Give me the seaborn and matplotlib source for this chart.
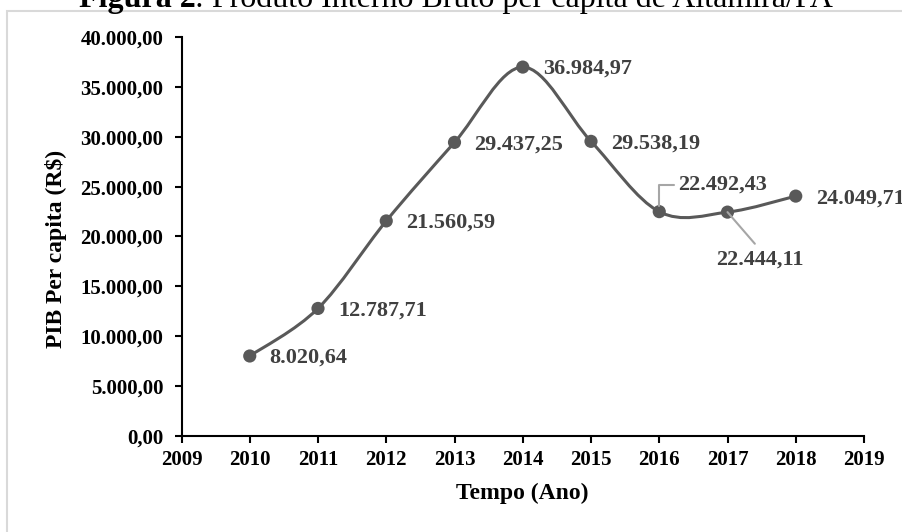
import numpy as np
import pandas as pd
import matplotlib
matplotlib.use("Agg")
import matplotlib.pyplot as plt
from matplotlib.path import Path
from matplotlib.patches import PathPatch, Rectangle
from matplotlib.ticker import FuncFormatter
import seaborn as sns

# PIB per capita de Altamira/PA (R$)
anos = [2010, 2011, 2012, 2013, 2014, 2015, 2016, 2017, 2018]
pib = [8020.64, 12787.71, 21560.59, 29437.25, 36984.97, 29538.19, 22492.43, 22444.11, 24049.71]
rotulos = ["8.020,64", "12.787,71", "21.560,59", "29.437,25", "36.984,97",
           "29.538,19", "22.492,43", "22.444,11", "24.049,71"]
anos_ticks = list(range(2009, 2020))

df = pd.DataFrame({"Ano": anos, "PIB": pib})

sns.set_theme(style="white")
plt.rcParams["font.family"] = ["Liberation Serif", "DejaVu Serif"]
plt.rcParams["font.weight"] = "bold"

cinza = "#595959"

fig = plt.figure(figsize=(9.03, 5.32), dpi=100)
ax = fig.add_axes([181.5 / 903, 1 - 436 / 532, (864 - 181.5) / 903, (436 - 37) / 532])

# linha suavizada (bezier tipo catmull-rom, como no Excel)
pts = df[["Ano", "PIB"]].to_numpy(dtype=float)
n = len(pts)
verts = [pts[0]]
codes = [Path.MOVETO]
for i in range(n - 1):
    p0 = pts[max(i - 1, 0)]
    p1 = pts[i]
    p2 = pts[i + 1]
    p3 = pts[min(i + 2, n - 1)]
    verts += [p1 + (p2 - p0) / 6, p2 - (p3 - p1) / 6, p2]
    codes += [Path.CURVE4] * 3
ax.add_patch(PathPatch(Path(verts, codes), facecolor="none", edgecolor=cinza,
                       lw=2.2, capstyle="round", zorder=2))

sns.scatterplot(data=df, x="Ano", y="PIB", s=90, color=cinza, edgecolor="none",
                zorder=3, legend=False, ax=ax)

# rotulos de dados
for x, y, lab in zip(anos, pib, rotulos):
    if x == 2016:
        ax.annotate(lab, (x, y), xytext=(19, 27), textcoords="offset pixels",
                    ha="left", va="center", fontsize=16, color="#404040",
                    arrowprops=dict(arrowstyle="-", color="#a6a6a6", lw=1.5,
                                    connectionstyle="angle,angleA=0,angleB=90,rad=0",
                                    relpos=(0, 0.5), shrinkA=1, shrinkB=4))
    elif x == 2017:
        ax.annotate(lab, (x, y), xytext=(32, -47), textcoords="offset pixels",
                    ha="center", va="center", fontsize=16, color="#404040",
                    arrowprops=dict(arrowstyle="-", color="#a6a6a6", lw=1.5,
                                    relpos=(0.5, 1), shrinkA=2, shrinkB=0))
    else:
        ax.annotate(lab, (x, y), xytext=(20, -2), textcoords="offset pixels",
                    ha="left", va="center", fontsize=16, color="#404040")

ax.set_xlim(2009, 2019)
ax.set_ylim(0, 40000)
ax.set_xticks(anos_ticks)
ax.set_yticks(np.arange(0, 40001, 5000))
ax.yaxis.set_major_formatter(FuncFormatter(
    lambda v, p: f"{v:,.2f}".replace(",", "X").replace(".", ",").replace("X", ".")))

sns.despine(ax=ax)
for s in ["left", "bottom"]:
    ax.spines[s].set_color("black")
    ax.spines[s].set_linewidth(1.5)
ax.tick_params(axis="both", which="major", direction="out", length=5, width=1.5,
               colors="black", labelsize=15, left=True, bottom=True)
ax.tick_params(axis="x", pad=5)
ax.tick_params(axis="y", pad=8)

ax.set_xlabel("Tempo (Ano)", fontsize=17, fontweight="bold", color="black")
ax.set_ylabel("PIB Per capita (R$)", fontsize=17, fontweight="bold", color="black")
ax.xaxis.set_label_coords(0.5, -0.118)
ax.yaxis.set_label_coords(-0.168, 0.47)

# moldura do grafico
fig.patches.append(Rectangle((7 / 903, -0.2), 1.2, 0.2 + (1 - 11 / 532),
                             transform=fig.transFigure, fill=False,
                             edgecolor="#d9d9d9", lw=1.5, clip_on=False))

# titulo (cortado no topo, como na figura original)
r = fig.canvas.get_renderer()
t1 = fig.text(0, 1 - 7 / 532, "Figura 2", fontsize=23, fontweight="bold",
              ha="left", va="baseline", color="black")
t2 = fig.text(0, 1 - 7 / 532, ": Produto Interno Bruto per capita de Altamira/PA",
              fontsize=23, fontweight="normal", ha="left", va="baseline", color="black")
w1 = t1.get_window_extent(r).width
w2 = t2.get_window_extent(r).width
x0 = 456 - (w1 + w2) / 2
t1.set_x(x0 / 903)
t2.set_x((x0 + w1) / 903)

plt.savefig("out.png", dpi=100)
